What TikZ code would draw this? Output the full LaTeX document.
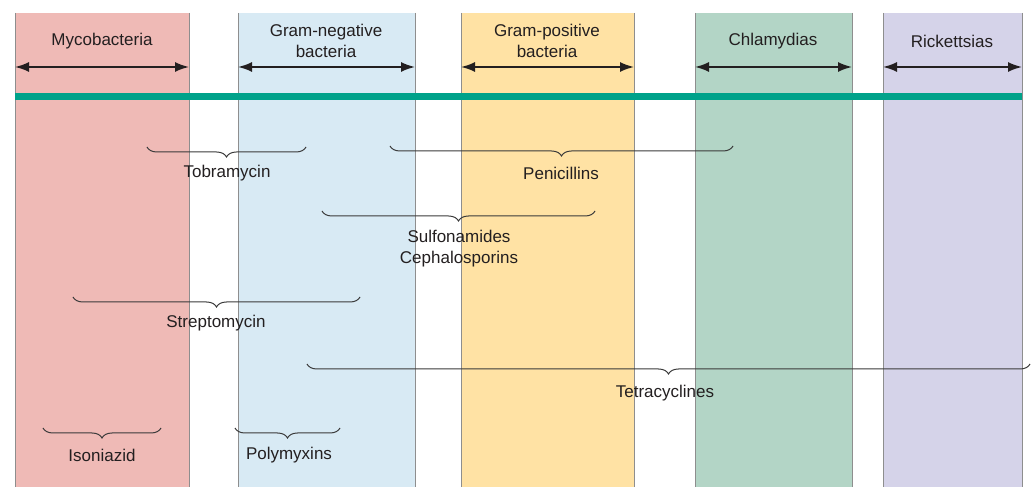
\documentclass[tikz,border=0pt]{standalone}
\usepackage{fontspec}
\setmainfont{Liberation Sans}
\usetikzlibrary{arrows.meta,decorations.pathreplacing}
\definecolor{myco}{HTML}{EFBAB6}
\definecolor{gneg}{HTML}{D8EAF4}
\definecolor{gpos}{HTML}{FFE2A4}
\definecolor{chla}{HTML}{B3D5C6}
\definecolor{rick}{HTML}{D5D3E9}
\definecolor{band}{HTML}{00A28A}
\definecolor{colborder}{HTML}{8E8E8E}
\definecolor{txt}{HTML}{231F20}
\definecolor{bracecol}{HTML}{3A3A3A}
\begin{document}
\begin{tikzpicture}[x=1pt,y=-1pt,
  col/.style={inner sep=0pt, outer sep=0pt, anchor=north west, minimum height=474pt},
  edge/.style={draw=colborder, line width=0.9pt},
  lbl/.style={font=\fontsize{17}{21}\selectfont, text=txt, align=center, inner sep=0pt},
  span/.style={{Latex[length=14pt,width=10pt]}-{Latex[length=14pt,width=10pt]}, line width=1.8pt, draw=txt},
  brc/.style={decorate, decoration={brace,mirror,amplitude=10pt}, line width=1pt, draw=bracecol}]
\useasboundingbox (0,0) rectangle (1034,502);
% columns
\node[col, fill=myco, minimum width=174pt] (c1) at (15,13) {};
\node[col, fill=gneg, minimum width=177pt] (c2) at (238,13) {};
\node[col, fill=gpos, minimum width=173pt] (c3) at (461,13) {};
\node[col, fill=chla, minimum width=157pt] (c4) at (695,13) {};
\node[col, fill=rick, minimum width=139pt] (c5) at (883,13) {};
\foreach \c in {c1,c2,c3,c4,c5}{
  \draw[edge] (\c.north west) -- (\c.south west);
  \draw[edge] (\c.north east) -- (\c.south east);
}
% headings
\node[lbl] (h1) at (102,41) {Mycobacteria};
\node[lbl] (h2) at (326,41) {Gram-negative\\bacteria};
\node[lbl] (h3) at (547,41) {Gram-positive\\bacteria};
\node[lbl] (h4) at (773,41) {Chlamydias};
\node[lbl] (h5) at (952,41) {Rickettsias};
% span arrows
\foreach \c in {c1,c2,c3,c4,c5}{
  \draw[span] (\c.west |- 0,67) -- (\c.east |- 0,67);
}
% green band
\draw[band, line width=7pt] (c1.west |- 0,97) -- (c5.east |- 0,97);
% braces
\coordinate (tobA) at (147,147); \coordinate (tobB) at (306,147);
\coordinate (penA) at (390,146); \coordinate (penB) at (733,146);
\coordinate (sulA) at (322,211); \coordinate (sulB) at (595,211);
\coordinate (strA) at (73,297);  \coordinate (strB) at (360,297);
\coordinate (tetA) at (307,364); \coordinate (tetB) at (1030,364);
\coordinate (isoA) at (43,428);  \coordinate (isoB) at (161,428);
\coordinate (polA) at (235,428); \coordinate (polB) at (340,428);
\draw[brc] (tobA) -- (tobB);
\draw[brc] (penA) -- (penB);
\draw[brc] (sulA) -- (sulB);
\draw[brc] (strA) -- (strB);
\draw[brc] (tetA) -- (tetB);
\draw[brc] (isoA) -- (isoB);
\draw[brc] (polA) -- (polB);
% drug labels
\node[lbl] (tob) at (227,173) {Tobramycin};
\node[lbl] (pen) at (561,173) {Penicillins};
\node[lbl] (sul) at (459,248.5) {Sulfonamides\\Cephalosporins};
\node[lbl] (str) at (216,323) {Streptomycin};
\node[lbl] (tet) at (665,393) {Tetracyclines};
\node[lbl] (iso) at (102,455) {Isoniazid};
\node[lbl] (pol) at (289,455) {Polymyxins};
\end{tikzpicture}
\end{document}
